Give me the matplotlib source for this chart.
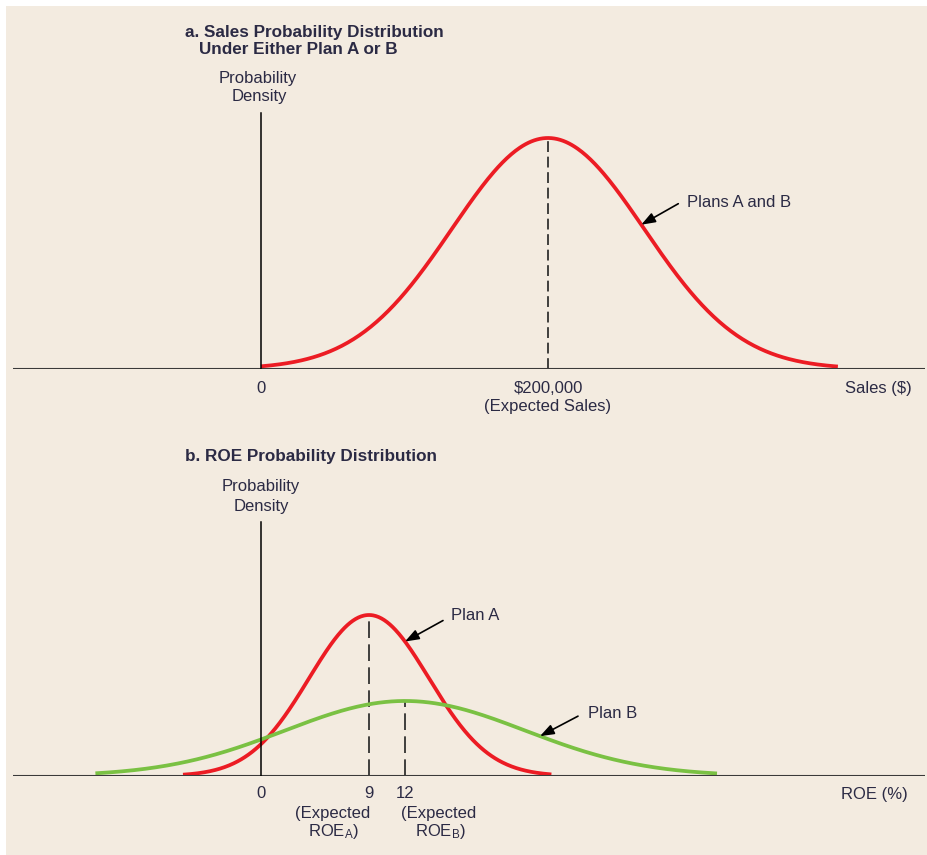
import numpy as np
import matplotlib.pyplot as plt
from matplotlib.patches import Rectangle

plt.rcParams['font.family'] = ['Liberation Sans', 'DejaVu Sans']
plt.rcParams['mathtext.default'] = 'regular'

# a. sales distribution (same for both plans)
sales_mean = 200000
sales_sd = 67000
sales_range = [0, 402000]

# b. ROE distributions
plans = ['Plan A', 'Plan B']
roe_mean = [9, 12]
roe_sd = [5.0, 10.0]
roe_peak = [1.0, 0.466]
roe_range = [[-6.5, 24.2], [-13.8, 38.0]]
roe_ticks = [0, 9, 12]
curve_colors = ['#ec1c24', '#7ac143']

txt = '#2b2a44'
bg = '#f3ebe0'
W, H = 928, 855

fig = plt.figure(figsize=(W / 100, H / 100), dpi=100)
fig.patch.set_facecolor('white')
fig.add_artist(Rectangle((6 / W, 0), 1, 1 - 6 / H, transform=fig.transFigure,
                         facecolor=bg, edgecolor='none', zorder=-10))


def bump(x, mu, sd, peak=1.0):
    return peak * np.exp(-0.5 * ((x - mu) / sd) ** 2)


def px_axes(left, right, top, bottom):
    # axes box given in pixel coords measured from the top-left corner
    return fig.add_axes([left / W, (H - bottom) / H, (right - left) / W, (bottom - top) / H])


def label(ax, x, y, s, dx=0, dy=0, **kw):
    kw.setdefault('fontsize', 12)
    kw.setdefault('color', txt)
    ax.annotate(s, xy=(x, y), xytext=(dx, dy), textcoords='offset pixels',
                va='center', annotation_clip=False, **kw)


def pointer(ax, x, y, tail, s, text_off):
    ax.annotate('', xy=(x, y), xytext=tail, textcoords='offset pixels',
                arrowprops=dict(arrowstyle='-|>,head_length=0.6,head_width=0.22',
                                mutation_scale=14, color='black', lw=1.2,
                                shrinkA=0, shrinkB=0))
    label(ax, x, y, s, *text_off, ha='left')


# ---- panel a ----
ax1 = px_axes(13, 925, 100, 369)
ax1.set_xlim(-172800, 462700)
ax1.set_ylim(0, 269 / 231)
ax1.axis('off')

xs = np.linspace(sales_range[0], sales_range[1], 400)
ax1.plot(xs, bump(xs, sales_mean, sales_sd), color=curve_colors[0], lw=2.7,
         solid_capstyle='butt', zorder=3)
ax1.axhline(0, color='#3a3a3a', lw=1.5, zorder=4)
ax1.plot([0, 0], [0, 256 / 231], color='black', lw=1.1, zorder=4)
ax1.plot([sales_mean, sales_mean], [0, 1], color='#222222', lw=1.2,
         dashes=(6.5, 2.8), zorder=2)

label(ax1, 0, 0, '0', dy=-19, ha='center')
label(ax1, sales_mean, 0, '$200,000', dy=-19, ha='center')
label(ax1, sales_mean, 0, '(Expected Sales)', dy=-37, ha='center')
ax1.annotate('Sales ($)', xy=(1, 0), xycoords='axes fraction', xytext=(-13, -19),
             textcoords='offset pixels', ha='right', va='center', fontsize=12, color=txt)

hx = 265000
pointer(ax1, hx, bump(hx, sales_mean, sales_sd), (37, 21), 'Plans A and B', (46, 22))

fig.text(185 / W, 1 - 32 / H, 'a. Sales Probability Distribution', fontsize=12.3,
         fontweight='bold', color=txt, va='center', ha='left')
fig.text(199 / W, 1 - 50 / H, 'Under Either Plan A or B', fontsize=12.3,
         fontweight='bold', color=txt, va='center', ha='left')
fig.text(258 / W, 1 - 78 / H, 'Probability', fontsize=12, color=txt, va='center', ha='center')
fig.text(259 / W, 1 - 97 / H, 'Density', fontsize=12, color=txt, va='center', ha='center')

# ---- panel b ----
ax2 = px_axes(13, 925, 500, 776)
ax2.set_xlim(-248 / 12, 664 / 12)
ax2.set_ylim(0, 276 / 161)
ax2.axis('off')

for mu, sd, pk, rng, c in zip(roe_mean, roe_sd, roe_peak, roe_range, curve_colors):
    xr = np.linspace(rng[0], rng[1], 400)
    ax2.plot(xr, bump(xr, mu, sd, pk), color=c, lw=2.7, solid_capstyle='butt', zorder=3)
    ax2.plot([mu, mu], [0, pk], color='#222222', lw=1.2, dashes=(10, 3.8), zorder=2)

ax2.axhline(0, color='#3a3a3a', lw=1.5, zorder=4)
ax2.plot([0, 0], [0, 254 / 161], color='black', lw=1.1, zorder=4)

for t in roe_ticks:
    label(ax2, t, 0, str(t), dy=-17, ha='center')
label(ax2, roe_mean[0], 0, '(Expected', dx=1, dy=-37, ha='right')
label(ax2, roe_mean[0], 0, 'ROE$_{A}$)', dx=-36, dy=-55, ha='center')
label(ax2, roe_mean[1], 0, '(Expected', dx=-4, dy=-37, ha='left')
label(ax2, roe_mean[1], 0, 'ROE$_{B}$)', dx=35, dy=-55, ha='center')
ax2.annotate('ROE (%)', xy=(1, 0), xycoords='axes fraction', xytext=(-17, -18),
             textcoords='offset pixels', ha='right', va='center', fontsize=12, color=txt)

ax_pts = [12.0, 23.25]
tails = [(38, 21), (38, 20)]
text_offs = [(46, 26), (48, 23)]
for i, name in enumerate(plans):
    x0 = ax_pts[i]
    pointer(ax2, x0, bump(x0, roe_mean[i], roe_sd[i], roe_peak[i]), tails[i], name, text_offs[i])

fig.text(185 / W, 1 - 456 / H, 'b. ROE Probability Distribution', fontsize=12.3,
         fontweight='bold', color=txt, va='center', ha='left')
fig.text(261 / W, 1 - 487 / H, 'Probability', fontsize=12, color=txt, va='center', ha='center')
fig.text(261 / W, 1 - 507 / H, 'Density', fontsize=12, color=txt, va='center', ha='center')

fig.savefig('out.png', dpi=100, facecolor=fig.get_facecolor())
